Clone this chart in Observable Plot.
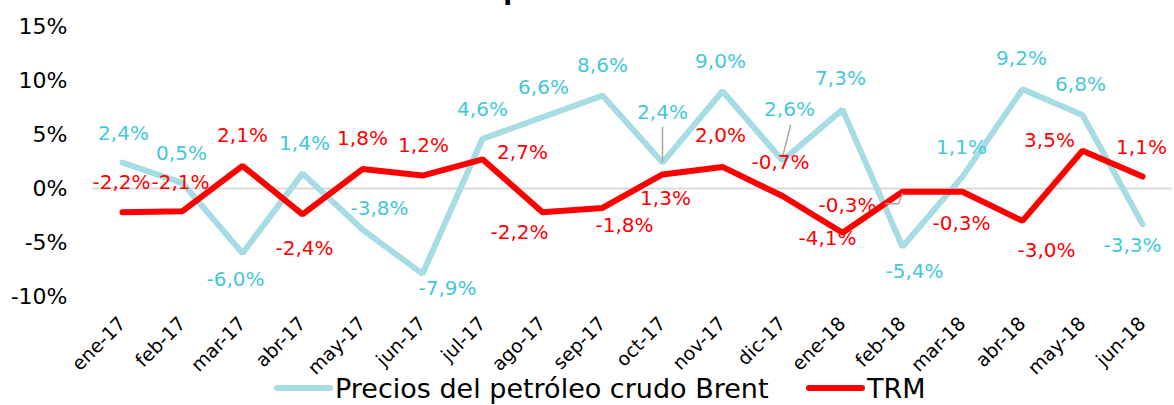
<!DOCTYPE html>
<html><head><meta charset="utf-8">
<script src="https://cdn.jsdelivr.net/npm/d3@7"></script>
<script src="https://cdn.jsdelivr.net/npm/@observablehq/plot@0.6"></script>
<style>
body{margin:0;background:#fff;font-family:"DejaVu Sans",sans-serif;}
#wrap{position:relative;width:1174px;height:405px;overflow:hidden;background:#fff;}
#title{position:absolute;top:-25px;left:0;width:1190px;text-align:center;font-size:26px;font-weight:bold;color:#000;white-space:nowrap;}
#chart svg{display:block;}
#legend svg{display:block;}
</style></head><body>
<div id="wrap">
<div id="title">Variación de precios vs. variación TRM</div>
<div id="chart"></div>
<div id="legend"></div>
</div>
<script>
// ---- data ----
const months = ["ene-17","feb-17","mar-17","abr-17","may-17","jun-17","jul-17","ago-17","sep-17","oct-17","nov-17","dic-17","ene-18","feb-18","mar-18","abr-18","may-18","jun-18"];
const brent = [2.4, 0.5, -6.0, 1.4, -3.8, -7.9, 4.6, 6.6, 8.6, 2.4, 9.0, 2.6, 7.3, -5.4, 1.1, 9.2, 6.8, -3.3];
const trm = [-2.2, -2.1, 2.1, -2.4, 1.8, 1.2, 2.7, -2.2, -1.8, 1.3, 2.0, -0.7, -4.1, -0.3, -0.3, -3.0, 3.5, 1.1];
const seriesNames = ["Precios del petróleo crudo Brent", "TRM"];
const yTicks = [-10, -5, 0, 5, 10, 15];

// ---- layout (label placement offsets in px) ----
const brentLabelOffset = [[1,-29],[-1,-30],[-7,26],[2,-30],[17,-21],[25,15],[0,-29],[1,-30],[0,-30],[0,-50],[-2,-30],[7,-51],[-2,-31],[12,25],[-1,-29],[-1,-31],[-2,-30],[-10,21]];
const trmLabelOffset = [[-1,-30],[-2,-29],[0,-30],[2,34],[0,-30],[1,-30],[40,-7],[-23,20],[22,18],[3,24],[-2,-31],[-2,-33],[-15,6],[-55,14],[-1,32],[24,30],[-33,-10],[-1,-29]];

const W = 1174, H = 365;
const mL = 92, mR = 2, mT = 26, mB = 69;
const pxPerX = (W - mL - mR) / months.length;
const pxPerY = (H - mT - mB) / (yTicks[yTicks.length-1] - yTicks[0]);

const cyanLine = "#a6dce4", cyanText = "#45c7da", red = "#ff0000", leaderColor = "#a6a6a6";
const fmt = v => v.toFixed(1).replace(".", ",") + "%";

const brentData = months.map((m, i) => ({i, v: brent[i]}));
const trmData = months.map((m, i) => ({i, v: trm[i]}));

// leader lines: [series, index, [[dx,dy],...]] in px relative to the point
const leaders = [
  [brent, 9, [[0,-1],[0,-35]]],
  [brent, 11, [[0,-3],[8,-35]]],
  [trm, 13, [[-17,12],[-4,12],[0,2]]]
];

const labelMarks = (data, offsets, color) => data.map((d, k) =>
  Plot.text([d], {x: "i", y: "v", text: d => fmt(d.v), dx: offsets[k][0], dy: offsets[k][1],
    fill: color, fontSize: 20, fontFamily: "DejaVu Sans"}));

const leaderMarks = leaders.map(([vals, idx, pts]) =>
  Plot.line(pts.map(([dx, dy]) => ({x: idx + dx / pxPerX, y: vals[idx] - dy / pxPerY})),
    {x: "x", y: "y", stroke: leaderColor, strokeWidth: 1.5}));

const plot = Plot.plot({
  width: W, height: H,
  marginLeft: mL, marginRight: mR, marginTop: mT, marginBottom: mB,
  style: {fontFamily: "DejaVu Sans", background: "white", color: "black", overflow: "visible"},
  x: {type: "linear", domain: [-0.5, months.length - 0.5]},
  y: {domain: [yTicks[0], yTicks[yTicks.length-1]]},
  marks: [
    Plot.ruleY([0], {stroke: "#d9d9d9", strokeWidth: 2}),
    Plot.axisY({ticks: yTicks, tickFormat: d => d + "%", tickSize: 0, tickPadding: 25, fontSize: 22, fill: "black", label: null}),
    Plot.axisX({ticks: d3.range(months.length), tickFormat: i => months[i], tickSize: 0, tickPadding: 24, tickRotate: -45, fontSize: 19, fill: "black", label: null}),
    Plot.line(brentData, {x: "i", y: "v", stroke: cyanLine, strokeWidth: 6, strokeLinejoin: "miter", strokeLinecap: "round"}),
    Plot.line(trmData, {x: "i", y: "v", stroke: red, strokeWidth: 6, strokeLinejoin: "miter", strokeLinecap: "round"}),
    ...leaderMarks,
    ...labelMarks(brentData, brentLabelOffset, cyanText),
    ...labelMarks(trmData, trmLabelOffset, red)
  ]
});
document.getElementById("chart").appendChild(plot);

// legend
const legendItems = [
  {name: seriesNames[0], color: cyanLine, x: 277},
  {name: seriesNames[1], color: red, x: 809}
];
const ns = "http://www.w3.org/2000/svg";
const lg = document.createElementNS(ns, "svg");
lg.setAttribute("width", W); lg.setAttribute("height", 40);
legendItems.forEach(it => {
  const l = document.createElementNS(ns, "line");
  l.setAttribute("x1", it.x); l.setAttribute("x2", it.x + 53);
  l.setAttribute("y1", 23); l.setAttribute("y2", 23);
  l.setAttribute("stroke", it.color); l.setAttribute("stroke-width", 6); l.setAttribute("stroke-linecap", "round");
  lg.appendChild(l);
  const t = document.createElementNS(ns, "text");
  t.setAttribute("x", it.x + 58); t.setAttribute("y", 33);
  t.setAttribute("font-family", "DejaVu Sans"); t.setAttribute("font-size", 27); t.setAttribute("fill", "black");
  t.textContent = it.name;
  lg.appendChild(t);
});
document.getElementById("legend").appendChild(lg);
</script>
</body></html>
